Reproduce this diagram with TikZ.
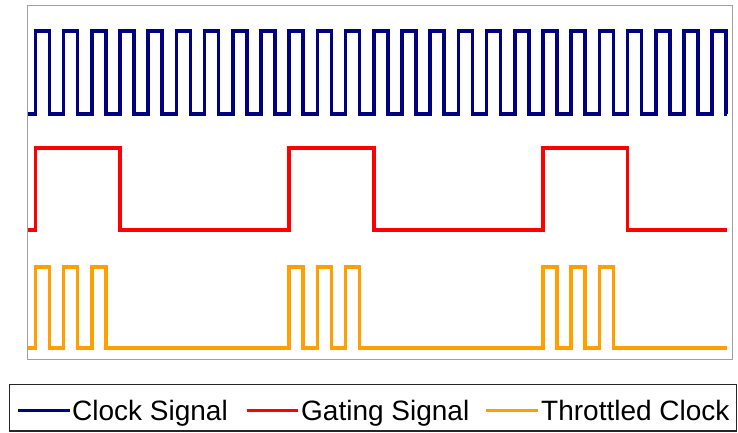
\documentclass[tikz,border=0pt]{standalone}
\usepackage{fontspec}
\newfontfamily\legfont{Liberation Sans}
\definecolor{clkblue}{HTML}{000080}
\definecolor{gatered}{HTML}{FF0000}
\definecolor{throrg}{HTML}{FFA000}
\definecolor{framegray}{HTML}{A0A0A0}
\tikzset{
  sig/.style={line width=3.6pt, line join=miter},
  clk/.style={sig, draw=clkblue},
  gate/.style={sig, draw=gatered},
  thr/.style={sig, draw=throrg},
  legline/.style={line width=3pt},
  legtext/.style={anchor=base west, inner sep=0pt, font=\legfont\fontsize{28}{32}\selectfont, text=black}
}
\begin{document}
\begin{tikzpicture}[x=1pt, y=-1pt]
\useasboundingbox (0,0) rectangle (738,432);
\fill[white] (0,0) rectangle (738,432);
% plot frame
\draw[framegray, line width=1.6pt] (27.5,5.5) rectangle (732.5,359.5);
% clock signal
\draw[clk] (28,114)
  \foreach \k in {0,...,24} {
    -- ({35.3+28.2*\k},114) -- ({35.3+28.2*\k},31)
    -- ({49.4+28.2*\k},31) -- ({49.4+28.2*\k},114)
  } -- (727,114);
% gating signal
\draw[gate] (28,230) -- (35.3,230) -- (35.3,148) -- (119.9,148) -- (119.9,230)
  -- (289.1,230) -- (289.1,148) -- (373.7,148) -- (373.7,230)
  -- (542.9,230) -- (542.9,148) -- (627.5,148) -- (627.5,230) -- (727,230);
% throttled clock
\draw[thr] (28,348)
  \foreach \k in {0,1,2,9,10,11,18,19,20} {
    -- ({35.3+28.2*\k},348) -- ({35.3+28.2*\k},267)
    -- ({49.4+28.2*\k},267) -- ({49.4+28.2*\k},348)
  } -- (727,348);
% legend
\draw[black!85, line width=1.5pt] (9.5,384.5) rectangle (736.5,431);
\coordinate (l1a) at (18,410); \coordinate (l1b) at (70,410);
\coordinate (l2a) at (247,410); \coordinate (l2b) at (298,410);
\coordinate (l3a) at (486,410); \coordinate (l3b) at (538,410);
\draw[legline, clkblue] (l1a) -- (l1b);
\draw[legline, gatered] (l2a) -- (l2b);
\draw[legline, throrg] (l3a) -- (l3b);
\node[legtext] (t1) at (72,420) {Clock Signal};
\node[legtext] (t2) at (301,420) {Gating Signal};
\node[legtext] (t3) at (541,420) {Throttled Clock};
\end{tikzpicture}
\end{document}
